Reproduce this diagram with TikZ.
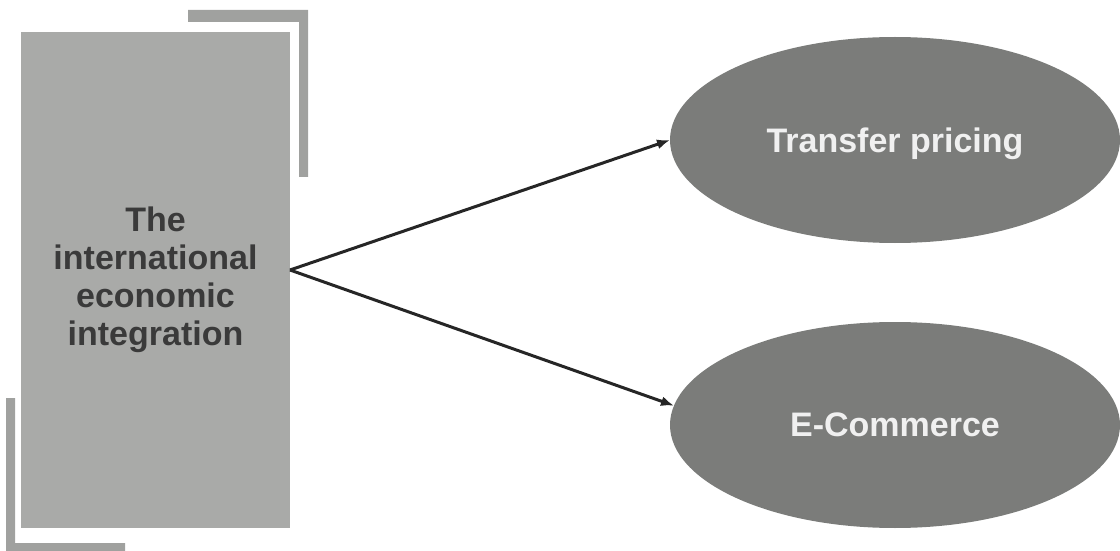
\documentclass[tikz,border=0pt]{standalone}
\usepackage{fontspec}
\setmainfont{Liberation Sans}
\usetikzlibrary{arrows.meta,positioning,shapes.geometric}
\definecolor{boxgray}{RGB}{169,170,168}
\definecolor{ovalgray}{RGB}{123,124,122}
\definecolor{bracegray}{RGB}{160,161,159}
\definecolor{inkgray}{RGB}{58,58,58}

\begin{document}
\begin{tikzpicture}[
 x=0.5pt,y=-0.5pt,
 every node/.style={font=\fontsize{17pt}{19pt}\selectfont\bfseries,align=center,inner sep=0pt,outer sep=0pt},
 block/.style={fill=boxgray,text=inkgray,minimum width=134.5pt,minimum height=248pt},
 topic/.style={ellipse,fill=ovalgray,text=white!94!black,minimum width=225pt,minimum height=103pt,text depth=0pt},
 corner/.style={fill=bracegray},
 arrow/.style={-{Latex[length=6.5pt,width=5pt]},line width=1.5pt,draw=black!85}
]
\useasboundingbox (0,0) rectangle (1120,551);
% corner brackets
\fill[corner] (188,10) -- (308,10) -- (308,177) -- (299,177) -- (299,22) -- (188,22) -- cycle;
\fill[corner] (6,398) -- (15,398) -- (15,543) -- (125,543) -- (125,551) -- (6,551) -- cycle;
\node[block] (econ) at (155.5,280) {The\\international\\economic\\integration};
\node[topic] (tp) at (895,140) {Transfer pricing};
\node[topic] (ec) at (895,425) {E-Commerce};
\coordinate (hub) at ([yshift=5pt]econ.east);
\draw[arrow] (hub)--(tp.west);
\draw[arrow] (hub)--(ec.175.5);
\end{tikzpicture}
\end{document}
